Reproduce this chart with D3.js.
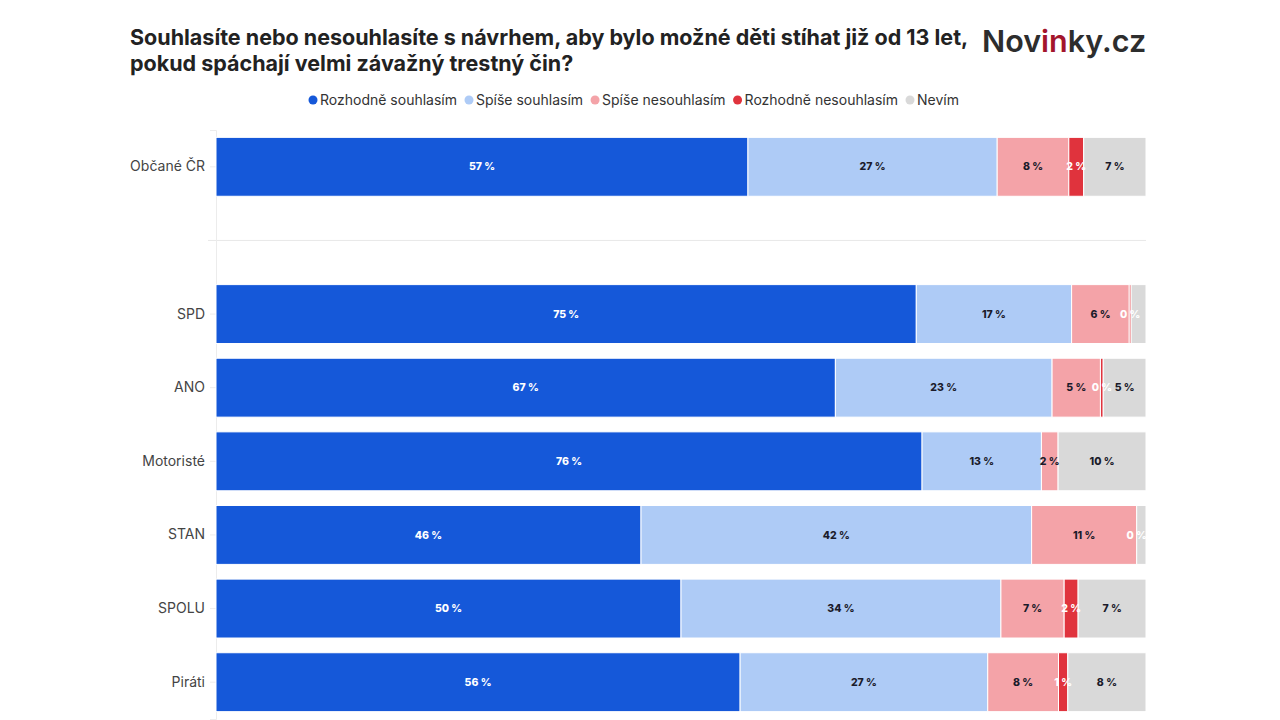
<!DOCTYPE html>
<html>
<head>
<meta charset="utf-8">
<script src="https://cdn.jsdelivr.net/npm/d3@7"></script>
<style>
  body { margin: 0; background: #fff; }
  svg { display: block; font-family: Inter, "Noto Sans", sans-serif; }
</style>
</head>
<body>
<svg id="chart" width="1280" height="720"></svg>
<script>
// rows, blank entry is the spacer between the whole population and the parties
const groups = ['Občané ČR', '', 'SPD', 'ANO', 'Motoristé', 'STAN', 'SPOLU', 'Piráti'];
const answers = ['Rozhodně souhlasím', 'Spíše souhlasím', 'Spíše nesouhlasím', 'Rozhodně nesouhlasím', 'Nevím'];
const colors = ['#1558d9', '#aecbf6', '#f4a3a8', '#e0333d', '#d9d9d9'];

// share in % per answer
const rozhodneSouhlasim   = [57.2, null, 75.3, 66.6, 76.3, 45.7, 50.0, 56.3];
const spiseSouhlasim      = [26.8, null, 16.7, 23.3, 12.9, 42.0, 34.4, 26.6];
const spiseNesouhlasim    = [7.7,  null, 6.2,  5.2,  1.8,  11.3, 6.8,  7.6];
const rozhodneNesouhlasim = [1.6,  null, 0.2,  0.3,  0.0,  0.0,  1.5,  1.0];
const nevim               = [6.7,  null, 1.6,  4.6,  9.5,  1.0,  7.3,  8.4];

const series = [rozhodneSouhlasim, spiseSouhlasim, spiseNesouhlasim, rozhodneNesouhlasim, nevim];

const rows = groups.map((g, i) => {
  const r = { group: g };
  answers.forEach((a, j) => { r[a] = series[j][i] || 0; });
  return r;
}).filter(r => r.group !== '');

const svg = d3.select('#chart');

// title
svg.append('text')
  .attr('x', 130).attr('y', 45)
  .attr('font-size', 21.5).attr('font-weight', 700).attr('fill', '#222')
  .selectAll('tspan')
  .data(['Souhlasíte nebo nesouhlasíte s návrhem, aby bylo možné děti stíhat již od 13 let,',
         'pokud spáchají velmi závažný trestný čin?'])
  .join('tspan')
  .attr('x', 130)
  .attr('dy', (d, i) => i ? 26 : 0)
  .text(d => d);

// logo
const logo = svg.append('text')
  .attr('x', 982).attr('y', 52)
  .attr('font-size', 30.5).attr('font-weight', 600).attr('fill', '#2d2d2d');
logo.append('tspan').text('Nov');
logo.append('tspan').attr('fill', '#a3152c').text('in');
logo.append('tspan').text('ky.cz');

// legend
const legend = svg.append('g').attr('font-size', 14).attr('fill', '#333');
let lx = 313;
answers.forEach((a, i) => {
  const item = legend.append('g').attr('transform', `translate(${lx},100)`);
  item.append('circle').attr('r', 4.5).attr('fill', colors[i]);
  const t = item.append('text').attr('x', 7).attr('dy', '0.35em').text(a);
  lx += 7 + t.node().getComputedTextLength() + 12;
});

const x = d3.scaleLinear().domain([0, 1]).range([216, 1146]);
const y = d3.scaleBand().domain(groups).range([130, 719]).paddingInner(0.2).paddingOuter(0.1);
const color = d3.scaleOrdinal().domain(answers).range(colors);

// separator between total and parties
svg.append('line')
  .attr('x1', 208).attr('x2', 1146)
  .attr('y1', y('') + y.bandwidth() / 2).attr('y2', y('') + y.bandwidth() / 2)
  .attr('stroke', '#e8e8e8');

// y axis
const yAxis = svg.append('g')
  .attr('transform', 'translate(216,0)')
  .call(d3.axisLeft(y).tickSize(6).tickPadding(5).tickFormat(d => d));
yAxis.select('.domain').attr('stroke', '#ececec');
yAxis.selectAll('.tick line').attr('stroke', '#ececec');
yAxis.selectAll('.tick text').attr('font-size', 14).attr('fill', '#444').attr('font-family', 'Inter, sans-serif');
yAxis.selectAll('.tick').filter(d => d === '').remove();

const stacked = d3.stack().keys(answers).offset(d3.stackOffsetExpand)(rows);

const layers = svg.append('g').selectAll('g')
  .data(stacked)
  .join('g')
  .attr('fill', d => color(d.key));

layers.selectAll('rect')
  .data(d => d)
  .join('rect')
  .attr('x', d => x(d[0]))
  .attr('width', d => Math.max(0, x(d[1]) - x(d[0])))
  .attr('y', d => y(d.data.group))
  .attr('height', y.bandwidth())
  .attr('stroke', '#fff')
  .attr('stroke-width', 1);

// value labels, skipped when they would sit on the previous one
const labels = [];
rows.forEach(r => {
  let lastX = -Infinity;
  stacked.forEach((layer, j) => {
    const d = layer.find(s => s.data === r);
    const cx = (x(d[0]) + x(d[1])) / 2;
    if (cx - lastX < 18) return;
    lastX = cx;
    labels.push({ x: cx, y: y(r.group) + y.bandwidth() / 2, v: r[layer.key], j });
  });
});

svg.append('g')
  .attr('font-size', 10.5).attr('font-weight', 800).attr('text-anchor', 'middle')
  .selectAll('text')
  .data(labels)
  .join('text')
  .attr('x', d => d.x)
  .attr('y', d => d.y)
  .attr('dy', '0.35em')
  .attr('fill', d => (d.j === 0 || d.j === 3 || d.v < 0.5) ? '#fff' : '#1b1b2b')
  .text(d => Math.round(d.v) + ' %');
</script>
</body>
</html>
